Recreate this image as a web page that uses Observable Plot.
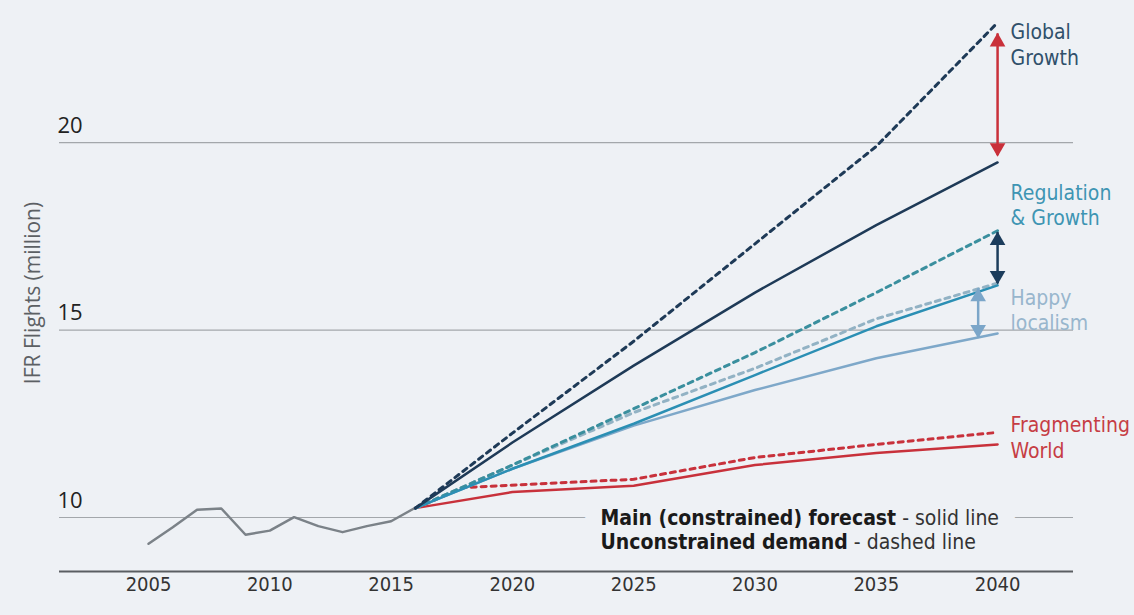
<!DOCTYPE html>
<html><head><meta charset="utf-8">
<script src="https://cdn.jsdelivr.net/npm/d3@7"></script>
<script src="https://cdn.jsdelivr.net/npm/@observablehq/plot@0.6"></script>
<style>
html,body{margin:0;padding:0;background:#eef1f5;}
#chart{width:1134px;height:615px;}
</style></head><body><div id="chart"></div>
<script>
// ---------- data ----------
const histYears  = [2005,2006,2007,2008,2009,2010,2011,2012,2013,2014,2015,2016];
const histValues = [9.30,9.74,10.21,10.24,9.54,9.65,10.01,9.77,9.61,9.77,9.90,10.26];

const forecastYears = [2016,2020,2025,2030,2035,2040];
const ggSolid  = [10.25,12.00,14.05,16.00,17.80,19.47];
const ggDashed = [10.25,12.25,14.70,17.30,19.90,23.20];
const rgSolid  = [10.25,11.30,12.50,13.80,15.10,16.19];
const rgDashed = [10.25,11.40,12.90,14.40,16.00,17.65];
const hlSolid  = [10.25,11.30,12.45,13.40,14.25,14.91];
const hlDashed = [10.25,11.40,12.80,13.98,15.30,16.25];
const fwSolid  = [10.25,10.68,10.85,11.40,11.72,11.95];
const fwDashedYears = [2016,2018,2025,2030,2035,2040];
const fwDashed = [10.25,10.80,11.02,11.60,11.95,12.27];

const scenarioLabels = ["Global\nGrowth","Regulation\n& Growth","Happy\nlocalism","Fragmenting\nWorld"];
const scenarioLabelY = [22.63,18.35,15.55,12.15];

// gap arrows between constrained and unconstrained in 2040
const arrowYear = [2040,2040,2039.2];
const arrowLow  = [19.65,16.24,14.80];
const arrowHigh = [22.90,17.60,16.10];

const xTicks = [2005,2010,2015,2020,2025,2030,2035,2040];
const yTicks = [10,15,20];
const xDomain = [2001.33,2043.13];
const yDomain = [8.56,23.79];

const legendBold = ["Main (constrained) forecast","Unconstrained demand"];
const legendRest = [" - solid line"," - dashed line"];
const legendX = 2023.63;
const legendY = [9.97,9.33];

// ---------- styles ----------
const bg = "#eef1f5";
const C = {
  gg:"#1e3a57", rg:"#2b8fb4", rgD:"#3a8f9e", hl:"#7ea8c9", hlD:"#92b2c4",
  fw:"#c8313b", hist:"#7b8288"
};
const labelColors = ["#30506b","#3e95b3","#98b6cd","#c63d44"];
const arrowColors = ["#c9303a","#1c3d5c","#7ba6c9"];
const narrow = "'Liberation Sans Narrow','DejaVu Sans Condensed','Roboto Condensed',Roboto,sans-serif";
const wide = "'Open Sans','Noto Sans',sans-serif";

const rows = (xs, ys) => xs.map((x,i)=>({x, y: ys[i]}));
const hist = rows(histYears, histValues);
const lines = [
  {d: rows(fwDashedYears, fwDashed), c: C.fw, dash: true},
  {d: rows(forecastYears, fwSolid), c: C.fw, dash: false},
  {d: rows(forecastYears, hlDashed), c: C.hlD, dash: true},
  {d: rows(forecastYears, hlSolid), c: C.hl, dash: false},
  {d: rows(forecastYears, rgDashed), c: C.rgD, dash: true},
  {d: rows(forecastYears, rgSolid), c: C.rg, dash: false},
  {d: rows(forecastYears, ggDashed), c: C.gg, dash: true},
  {d: rows(forecastYears, ggSolid), c: C.gg, dash: false},
];

const labels = scenarioLabels.map((t,i)=>({t, y: scenarioLabelY[i], c: labelColors[i]}));
const arrows = arrowYear.map((x,i)=>({x, lo: arrowLow[i], hi: arrowHigh[i], c: arrowColors[i]}));
const legend = legendBold.map((b,i)=>({b, r: legendRest[i], t: b + legendRest[i], y: legendY[i]}));

const marks = [
  Plot.ruleY(yTicks, {stroke:"#a3a7ab", strokeWidth:1.2}),
  Plot.ruleY([yDomain[0]], {stroke:"#5a5e62", strokeWidth:2}),
  // halo hiding the gridline behind the legend
  Plot.text(legend, {x: legendX, y:"y", text:"t", textAnchor:"start", fill:"none",
    stroke: bg, strokeWidth: 34, strokeLinejoin:"round", fontSize:21, fontFamily: narrow, fontWeight:"bold"}),
  Plot.line(hist, {x:"x", y:"y", stroke: C.hist, strokeWidth: 2.5}),
  ...lines.map(s => Plot.line(s.d, {x:"x", y:"y", stroke: s.c,
      strokeWidth: s.dash ? 3 : 2.5, strokeDasharray: s.dash ? "5,5" : null})),
  Plot.ruleX(arrows, {x:"x", y1:"lo", y2:"hi", stroke:"c", strokeWidth:2.5}),
  Plot.dot(arrows, {x:"x", y:"hi", symbol:"triangle", r:5.8, fill:"c", stroke:"none", dy:8}),
  Plot.dot(arrows, {x:"x", y:"lo", symbol:"triangle", r:5.8, fill:"c", stroke:"none", rotate:180, dy:-8}),
  Plot.text(labels, {x: 2040, y:"y", text:"t", fill:"c", textAnchor:"start", dx:13,
    lineHeight:1.2, fontSize:21, fontFamily: narrow}),
  Plot.text(legend, {x: legendX, y:"y", text:"t", textAnchor:"start", fill:"#1a1a1a",
    fontSize:21, fontFamily: narrow}),
  Plot.axisX({ticks: xTicks, tickSize:0, tickPadding:5, tickFormat: d=>String(d),
    fontSize:20, fontFamily: narrow, fill:"#333", label:null}),
  Plot.axisY({ticks: yTicks, anchor:"left", tickSize:0, tickPadding:2, textAnchor:"start",
    dy:-17, fontSize:22, fontFamily: wide, fill:"#222", label:null}),
  Plot.text(["IFR Flights (million)"], {frameAnchor:"left", textAnchor:"middle", rotate:-90, dx:-26, dy:7,
    fontSize:21, fontFamily: wide, fill:"#5c6064"})
];

const svg = Plot.plot({
  width:1134, height:615,
  marginLeft:59, marginRight:61, marginTop:0, marginBottom:44,
  x:{domain:xDomain, axis:null},
  y:{domain:yDomain, axis:null},
  style:{background:bg, overflow:"visible"},
  marks
});

// bold first part of each legend line
svg.querySelectorAll("text").forEach(el=>{
  const row = legend.find(l => el.textContent === l.t);
  if (!row) return;
  el.textContent = "";
  const ns = "http://www.w3.org/2000/svg";
  const b = document.createElementNS(ns,"tspan");
  b.setAttribute("font-weight","bold"); b.textContent = row.b;
  const r = document.createElementNS(ns,"tspan");
  r.setAttribute("font-weight","normal"); r.setAttribute("fill","#333"); r.textContent = row.r;
  el.appendChild(b); el.appendChild(r);
});

document.getElementById("chart").appendChild(svg);
</script></body></html>
